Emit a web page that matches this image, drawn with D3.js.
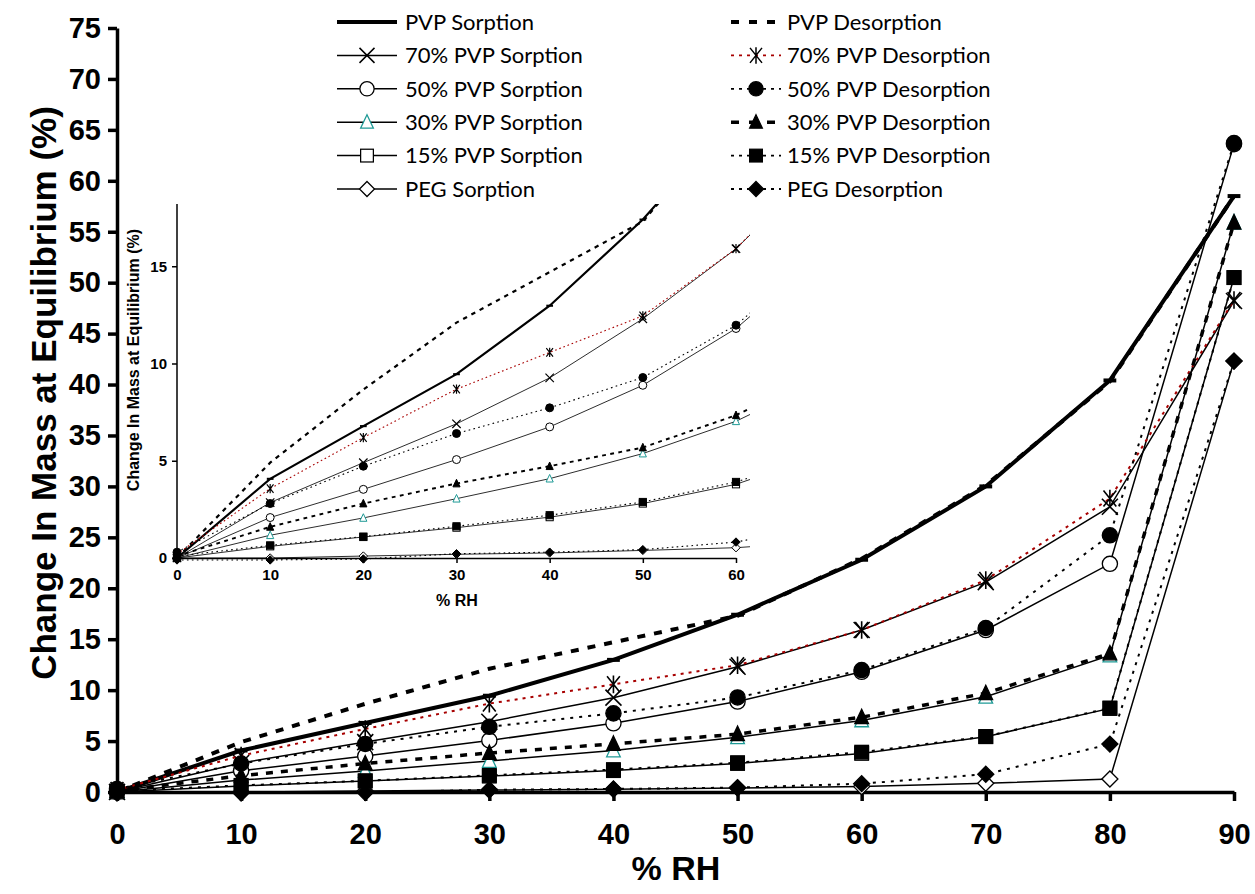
<!DOCTYPE html>
<html>
<head>
<meta charset="utf-8">
<script src="https://cdn.jsdelivr.net/npm/d3@7"></script>
<style>
  body { margin: 0; background: #fff; }
  svg { display: block; }
</style>
</head>
<body>
<script>
// relative humidity steps (%)
var rh = [0, 10, 20, 30, 40, 50, 60, 70, 80, 90];

// change in mass at equilibrium (%)
var pvpSorp     = [0, 4.07, 6.78, 9.45, 12.97, 17.4, 22.8, 30.0, 40.4, 58.5];
var pvpDesorp   = [0, 4.9, 8.66, 12.1, 14.7, 17.3, 22.9, 30.1, 40.3, 58.5];
var pvp70Sorp   = [0, 2.85, 4.9, 6.9, 9.26, 12.3, 15.9, 20.6, 28.0, 48.2];
var pvp70Desorp = [0.2, 3.57, 6.19, 8.68, 10.57, 12.45, 15.9, 20.8, 28.8, 48.3];
var pvp50Sorp   = [0, 2.08, 3.53, 5.06, 6.74, 8.88, 11.8, 15.9, 22.4, 63.6];
var pvp50Desorp = [0.3, 2.8, 4.72, 6.4, 7.72, 9.28, 11.97, 16.1, 25.2, 63.7];
var pvp30Sorp   = [0, 1.17, 2.06, 3.05, 4.08, 5.37, 7.03, 9.35, 13.4, 55.9];
var pvp30Desorp = [0.1, 1.6, 2.8, 3.83, 4.72, 5.68, 7.34, 9.7, 13.6, 55.9];
var pvp15Sorp   = [0, 0.6, 1.08, 1.56, 2.1, 2.8, 3.79, 5.43, 8.2, 50.5];
var pvp15Desorp = [0.1, 0.65, 1.1, 1.63, 2.2, 2.88, 3.91, 5.45, 8.25, 50.5];
var pegSorp     = [0, 0, 0.1, 0.19, 0.26, 0.39, 0.53, 0.86, 1.27, 42.3];
var pegDesorp   = [-0.1, -0.1, -0.05, 0.22, 0.3, 0.43, 0.82, 1.74, 4.7, 42.3];

var xTicks = [0, 10, 20, 30, 40, 50, 60, 70, 80, 90];
var yTicks = d3.range(0, 80, 5);
var insetXTicks = [0, 10, 20, 30, 40, 50, 60];
var insetYTicks = [0, 5, 10, 15];

var teal = '#1f9a96', darkRed = '#a80000';

// series in legend order (sorption column, desorption column)
var series = [
  {name: 'PVP Sorption',        values: pvpSorp,     col: 0, w: 4,   dash: null,  color: '#000', marker: 'dash'},
  {name: '70% PVP Sorption',    values: pvp70Sorp,   col: 0, w: 1.5, dash: null,  color: '#000', marker: 'x'},
  {name: '50% PVP Sorption',    values: pvp50Sorp,   col: 0, w: 1.5, dash: null,  color: '#000', marker: 'circle', open: true},
  {name: '30% PVP Sorption',    values: pvp30Sorp,   col: 0, w: 1.5, dash: null,  color: '#000', marker: 'triangle', open: true, mcolor: teal},
  {name: '15% PVP Sorption',    values: pvp15Sorp,   col: 0, w: 1.5, dash: null,  color: '#000', marker: 'square', open: true},
  {name: 'PEG Sorption',        values: pegSorp,     col: 0, w: 1.5, dash: null,  color: '#000', marker: 'diamond', open: true},
  {name: 'PVP Desorption',      values: pvpDesorp,   col: 1, w: 4,   dash: '8,9', color: '#000', marker: null},
  {name: '70% PVP Desorption',  values: pvp70Desorp, col: 1, w: 2,   dash: '3,5', color: darkRed, marker: 'asterisk'},
  {name: '50% PVP Desorption',  values: pvp50Desorp, col: 1, w: 2,   dash: '3,6', color: '#000', marker: 'circle'},
  {name: '30% PVP Desorption',  values: pvp30Desorp, col: 1, w: 3.5, dash: '7,8', color: '#000', marker: 'triangle'},
  {name: '15% PVP Desorption',  values: pvp15Desorp, col: 1, w: 2,   dash: '3,6', color: '#000', marker: 'square'},
  {name: 'PEG Desorption',      values: pegDesorp,   col: 1, w: 2,   dash: '3,6', color: '#000', marker: 'diamond'}
];

var width = 1255, height = 894;
var svg = d3.select('body').append('svg')
    .attr('width', width)
    .attr('height', height);

// draws one marker of a given kind, centered at 0,0, size s = half width
function marker(g, d, s) {
  var col = d.mcolor || '#000';
  var sw = Math.max(1, s / 6);
  if (d.marker === 'dash') {
    g.append('rect').attr('x', -s * 0.8).attr('y', -s * 0.25).attr('width', s * 1.6).attr('height', s * 0.5).attr('fill', '#000');
  } else if (d.marker === 'x') {
    g.append('path').attr('d', 'M' + (-s) + ',' + (-s) + 'L' + s + ',' + s + 'M' + (-s) + ',' + s + 'L' + s + ',' + (-s))
      .attr('stroke', '#000').attr('stroke-width', sw * 1.2).attr('fill', 'none');
  } else if (d.marker === 'asterisk') {
    var a = s * 0.8;
    g.append('path').attr('d', 'M' + (-a) + ',' + (-s) + 'L' + a + ',' + s + 'M' + (-a) + ',' + s + 'L' + a + ',' + (-s) + 'M0,' + (-s * 1.1) + 'L0,' + (s * 1.1))
      .attr('stroke', '#000').attr('stroke-width', sw * 1.2).attr('fill', 'none');
  } else if (d.marker === 'circle') {
    g.append('circle').attr('r', s * 0.95)
      .attr('fill', d.open ? '#fff' : '#000').attr('stroke', col).attr('stroke-width', sw);
  } else if (d.marker === 'square') {
    g.append('rect').attr('x', -s * 0.85).attr('y', -s * 0.85).attr('width', s * 1.7).attr('height', s * 1.7)
      .attr('fill', d.open ? '#fff' : '#000').attr('stroke', col).attr('stroke-width', sw);
  } else if (d.marker === 'triangle') {
    g.append('path').attr('d', 'M0,' + (-s) + 'L' + (s * 0.85) + ',' + (s * 0.8) + 'L' + (-s * 0.85) + ',' + (s * 0.8) + 'Z')
      .attr('fill', d.open ? '#fff' : '#000').attr('stroke', col).attr('stroke-width', sw);
  } else if (d.marker === 'diamond') {
    g.append('path').attr('d', 'M0,' + (-s) + 'L' + s + ',0L0,' + s + 'L' + (-s) + ',0Z')
      .attr('fill', d.open ? '#fff' : '#000').attr('stroke', col).attr('stroke-width', sw);
  }
}

function drawSeries(g, xs, ys, lineScale, msize) {
  var line = d3.line()
    .x(function(p) { return xs(p[0]); })
    .y(function(p) { return ys(p[1]); });
  series.forEach(function(d) {
    var pts = [];
    d.values.forEach(function(v, i) { if (rh[i] <= xs.domain()[1]) pts.push([rh[i], v]); });
    // in the inset, keep one point past the edge so the clipped line runs out
    if (pts.length < d.values.length) pts.push([rh[pts.length], d.values[pts.length]]);
    g.append('path')
      .datum(pts)
      .attr('d', line)
      .attr('fill', 'none')
      .attr('stroke', d.color)
      .attr('stroke-width', d.w * lineScale)
      .attr('stroke-dasharray', d.dash ? d.dash.split(',').map(function(n) { return n * Math.max(lineScale, 0.5); }).join(',') : null);
    if (d.marker) {
      g.selectAll(null)
        .data(pts.filter(function(p) { return p[0] <= xs.domain()[1]; }))
        .enter().append('g')
        .attr('transform', function(p) { return 'translate(' + xs(p[0]) + ',' + ys(p[1]) + ')'; })
        .each(function() { marker(d3.select(this), d, msize); });
    }
  });
}

// ---------- main chart ----------
var x = d3.scaleLinear().domain([0, 90]).range([117, 1234]);
var y = d3.scaleLinear().domain([0, 75]).range([792, 28]);

var xAxis = svg.append('g')
    .attr('transform', 'translate(0,792)')
    .call(d3.axisBottom(x).tickValues(xTicks).tickSize(9).tickPadding(22).tickSizeOuter(0));
var yAxis = svg.append('g')
    .attr('transform', 'translate(117,0)')
    .call(d3.axisLeft(y).tickValues(yTicks).tickSize(9).tickPadding(7).tickSizeOuter(0));

[xAxis, yAxis].forEach(function(a) {
  a.select('.domain').attr('stroke', '#000').attr('stroke-width', 3.5);
  a.selectAll('.tick line').attr('stroke', '#000').attr('stroke-width', 3.5);
  a.selectAll('.tick text')
    .attr('fill', '#000')
    .style('font-family', '"Liberation Sans", Arial, sans-serif')
    .style('font-weight', 'bold')
    .style('font-size', '29px');
});

svg.append('text')
    .attr('x', 676).attr('y', 880)
    .attr('text-anchor', 'middle')
    .style('font-family', '"Liberation Sans", Arial, sans-serif')
    .style('font-weight', 'bold').style('font-size', '34px')
    .text('% RH');

svg.append('text')
    .attr('transform', 'translate(56,393) rotate(-90)')
    .attr('text-anchor', 'middle')
    .style('font-family', '"Liberation Sans", Arial, sans-serif')
    .style('font-weight', 'bold').style('font-size', '35px')
    .text('Change In Mass at Equilibrium (%)');

drawSeries(svg.append('g'), x, y, 1, 8);

// ---------- inset ----------
var ix = d3.scaleLinear().domain([0, 60]).range([177, 736]);
var iy = d3.scaleLinear().domain([0, 18.2]).range([558, 204]);

svg.append('clipPath').attr('id', 'insetClip')
  .append('rect').attr('x', 150).attr('y', 204).attr('width', 600).attr('height', 370);

var ixAxis = svg.append('g')
    .attr('transform', 'translate(0,558)')
    .call(d3.axisBottom(ix).tickValues(insetXTicks).tickSize(5).tickPadding(6).tickSizeOuter(0));
var iyAxis = svg.append('g')
    .attr('transform', 'translate(177,0)')
    .call(d3.axisLeft(iy).tickValues(insetYTicks).tickSize(5).tickPadding(5).tickSizeOuter(0));
[ixAxis, iyAxis].forEach(function(a) {
  a.select('.domain').attr('stroke', '#000').attr('stroke-width', 1.5);
  a.selectAll('.tick line').attr('stroke', '#000').attr('stroke-width', 1.5);
  a.selectAll('.tick text')
    .attr('fill', '#000')
    .style('font-family', '"Liberation Sans", Arial, sans-serif')
    .style('font-weight', 'bold')
    .style('font-size', '15px');
});
iyAxis.select('.domain').attr('d', 'M0,204V558');

svg.append('text')
    .attr('x', 457).attr('y', 606)
    .attr('text-anchor', 'middle')
    .style('font-family', '"Liberation Sans", Arial, sans-serif')
    .style('font-weight', 'bold').style('font-size', '16px')
    .text('% RH');

svg.append('text')
    .attr('transform', 'translate(139,360) rotate(-90)')
    .attr('text-anchor', 'middle')
    .style('font-family', '"Liberation Sans", Arial, sans-serif')
    .style('font-weight', 'bold').style('font-size', '16px')
    .text('Change In Mass at Equilibrium (%)');

drawSeries(svg.append('g').attr('clip-path', 'url(#insetClip)'), ix, iy, 0.55, 4.2);

// ---------- legend ----------
var legend = svg.append('g');
var colX = [[337, 397, 405], [731, 781, 787]];
var rows = [0, 0];
series.forEach(function(d) {
  var c = colX[d.col];
  var ry = 22 + rows[d.col] * 33.4;
  rows[d.col]++;
  var g = legend.append('g');
  g.append('line')
    .attr('x1', c[0]).attr('x2', c[1]).attr('y1', ry).attr('y2', ry)
    .attr('stroke', d.color)
    .attr('stroke-width', d.w === 4 ? 4 : (d.dash ? (d.w > 3 ? 3.5 : 1.8) : 1.5))
    .attr('stroke-dasharray', d.dash ? (d.w > 3 ? '8,10' : '3,5') : null);
  if (d.marker && d.marker !== 'dash') {
    marker(g.append('g').attr('transform', 'translate(' + ((c[0] + c[1]) / 2) + ',' + ry + ')'), d, 7.5);
  }
  g.append('text')
    .attr('x', c[2]).attr('y', ry)
    .attr('dy', '0.35em')
    .style('font-family', 'Lato, "Liberation Sans", sans-serif')
    .style('font-size', '22px')
    .attr('fill', '#000')
    .text(d.name);
});
</script>
</body>
</html>
